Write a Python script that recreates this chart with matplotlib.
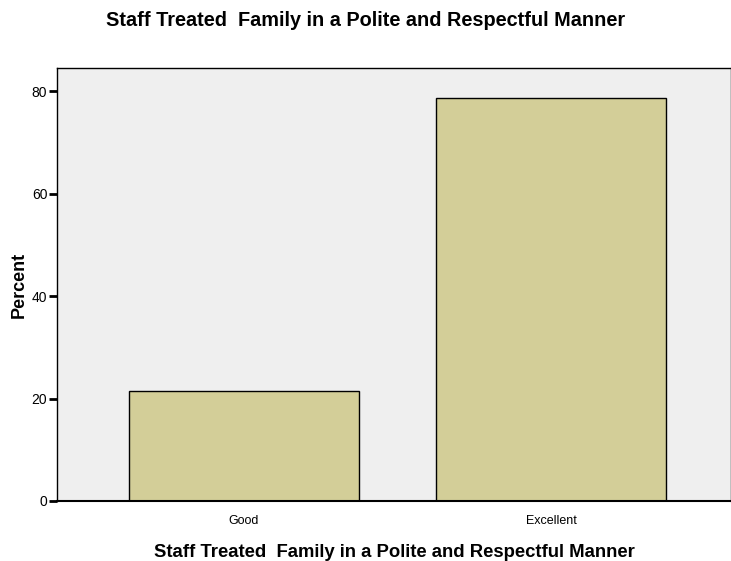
import matplotlib
matplotlib.use('Agg')
import matplotlib.pyplot as plt

categories = ['Good', 'Excellent']
percent = [21.4, 78.6]

plt.rcParams['font.family'] = ['Liberation Sans', 'DejaVu Sans']

fig = plt.figure(figsize=(7.31, 5.61), dpi=100)
ax = fig.add_axes([57 / 731, 1 - 501 / 561, 674 / 731, 433 / 561])
ax.set_facecolor('#efefef')

x = range(len(categories))
ax.bar(x, percent, width=0.75, color='#d3ce98', edgecolor='black', linewidth=1)

ax.set_xlim(-0.609, 1.586)
ax.set_ylim(0, 84.5)
ax.set_yticks([0, 20, 40, 60, 80])
ax.set_xticks(list(x))
ax.set_xticklabels(categories, fontsize=9)
ax.tick_params(axis='x', length=0, pad=10)
ax.tick_params(axis='y', length=6, width=2, labelsize=10, pad=1)

for s in ['left', 'top', 'right', 'bottom']:
    ax.spines[s].set_linewidth(1)
ax.spines['bottom'].set_linewidth(1.5)

ax.set_ylabel('Percent', fontsize=13, fontweight='bold', labelpad=3)
ax.set_xlabel('Staff Treated  Family in a Polite and Respectful Manner',
              fontsize=13.3, fontweight='bold', labelpad=12)
fig.text(366 / 731, 1 - 20 / 561,
         'Staff Treated  Family in a Polite and Respectful Manner',
         ha='center', va='center', fontsize=14.3, fontweight='bold')

fig.savefig('out.png', dpi=100)
